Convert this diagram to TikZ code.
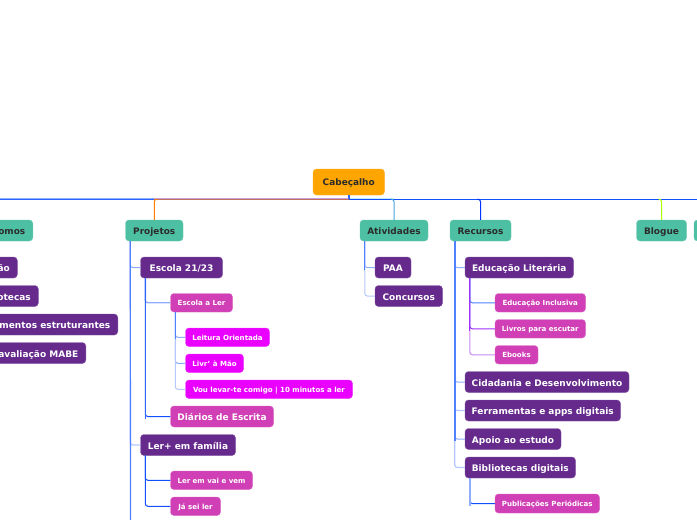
\documentclass[tikz,border=0pt]{standalone}
\usepackage{fontspec}
\setmainfont{DejaVu Sans}
\definecolor{teal1}{HTML}{4DBFA3}
\definecolor{purp1}{HTML}{652A8C}
\definecolor{pink1}{HTML}{D03FB5}
\definecolor{mag1}{HTML}{EA00FF}
\definecolor{orng1}{HTML}{FFA500}
\definecolor{ink1}{HTML}{2B2B2B}
\definecolor{trunkb}{HTML}{2A66FF}
\definecolor{midb}{HTML}{4F80FF}
\definecolor{lightb}{HTML}{8FADFF}
\definecolor{paleb}{HTML}{B4C8FF}
\definecolor{deepb}{HTML}{1050FF}
\definecolor{viol1}{HTML}{A030FF}
\definecolor{viol2}{HTML}{C888F8}
\definecolor{brown1}{HTML}{C0705A}
\definecolor{palep}{HTML}{C8A0E0}
\tikzset{
 box/.style={rounded corners=3.5pt,inner sep=0pt,anchor=center,text height=8pt,text depth=0pt,font=\bfseries\fontsize{9}{11}\selectfont},
 mainbox/.style={box,fill=teal1,draw=teal1!85!white,line width=.4pt,text=ink1,text height=7.5pt,font=\bfseries\fontsize{8.95}{10}\selectfont},
 root/.style={mainbox,fill=orng1,draw=orng1!85!white},
 subbox/.style={box,fill=purp1,draw=purp1!80!white,line width=.4pt,text=white},
 pinkbox/.style={box,fill=pink1,draw=pink1!80!white,line width=.4pt,text=white,text height=6pt,font=\bfseries\fontsize{7.05}{8}\selectfont},
 pinkbig/.style={box,fill=pink1,draw=pink1!80!white,line width=.4pt,text=white},
 magbox/.style={pinkbox,fill=mag1,draw=mag1!80!white},
 cn/.style={rounded corners=2.5pt,line width=1pt},
 bar/.style={line width=1pt},
}
\newcommand{\bx}[7]{\node[#1,minimum width=#4-#3,minimum height=#6-#5] (#2) at ({(#3+#4)/2},{(#5+#6)/2}) {#7};}
\begin{document}
\begin{tikzpicture}[x=1pt,y=-1pt]
\useasboundingbox (0,0) rectangle (697,520);
\clip (0,0) rectangle (697,520);
\fill[white] (0,0) rectangle (697,520);
\coordinate (barL) at (0,199.2);
\coordinate (barR) at (697,199.2);
\coordinate (bottomP) at (130.5,520);
% nodes
\bx{root}{cab}{313}{384.5}{169}{195}{Cabeçalho}
\node[mainbox,anchor=east,minimum height=21pt,inner xsep=7.5pt] (auto) at (33,230.5) {\hspace*{60pt}omos};
\bx{mainbox}{proj}{125.5}{183}{220}{241}{Projetos}
\bx{mainbox}{ativ}{360}{428}{220}{241}{Atividades}
\bx{mainbox}{recu}{450}{511}{220}{241}{Recursos}
\bx{mainbox}{blog}{636.5}{686.5}{220}{241}{Blogue}
\bx{mainbox}{extra}{694}{730}{220}{241}{}
\node[subbox,anchor=east,minimum height=21pt,inner xsep=7.5pt] (l1) at (17.5,267.5) {\hspace*{60pt}ão};
\node[subbox,anchor=east,minimum height=21pt,inner xsep=7.5pt] (l2) at (38.5,296) {\hspace*{60pt}otecas};
\node[subbox,anchor=east,minimum height=21pt,inner xsep=7.5pt] (l3) at (118,324.5) {\hspace*{60pt}mentos estruturantes};
\node[subbox,anchor=east,minimum height=21pt,inner xsep=7.5pt] (l4) at (86,353) {\hspace*{60pt}avaliação MABE};
\bx{subbox}{esc}{140.5}{222.5}{257}{278}{Escola 21/23}
\bx{pinkbox}{escl}{170.5}{232.5}{293.5}{312}{Escola a Ler}
\bx{magbox}{leit}{185.5}{269.5}{328}{346.5}{Leitura Orientada}
\bx{magbox}{livr}{185.5}{243.5}{354}{372.5}{Livr' à Mão}
\bx{magbox}{vou}{185.5}{352.5}{380}{398.5}{Vou levar-te comigo | 10 minutos a ler}
\bx{pinkbig}{diar}{170.5}{273.5}{406}{427}{Diários de Escrita}
\bx{subbox}{lerf}{140.5}{235.5}{434.5}{455.5}{Ler+ em família}
\bx{pinkbox}{lerv}{170.5}{252.5}{471}{489.5}{Ler em vai e vem}
\bx{pinkbox}{jasei}{170.5}{220.5}{497}{515.5}{Já sei ler}
\bx{subbox}{paa}{375}{411}{257}{278}{PAA}
\bx{subbox}{conc}{375}{442.5}{285.5}{306.5}{Concursos}
\bx{subbox}{edul}{465}{573.5}{257}{278}{Educação Literária}
\bx{pinkbox}{edui}{495}{585.5}{293.5}{312}{Educação Inclusiva}
\bx{pinkbox}{livp}{495}{585.5}{319.5}{338}{Livros para escutar}
\bx{pinkbox}{eboo}{495}{538}{345.5}{364}{Ebooks}
\bx{subbox}{cida}{465}{629}{371.5}{392.5}{Cidadania e Desenvolvimento}
\bx{subbox}{ferr}{465}{620.5}{400}{421}{Ferramentas e apps digitais}
\bx{subbox}{apoi}{465}{561}{428.5}{449.5}{Apoio ao estudo}
\bx{subbox}{bibl}{465}{575.5}{457}{478}{Bibliotecas digitais}
\bx{pinkbox}{publ}{495}{599.5}{494}{513}{Publicações Periódicas}
% top bar
\draw[bar,color=lightb] (0,198.2) -- (proj.north |- 0,198.2);
\draw[bar,color=palep] (proj.north |- 0,198.2) -- (cab.south |- 0,198.2);
\draw[bar,color=cyan!25!white] (cab.south |- 0,198.2) -- (ativ.north |- 0,198.2);
\draw[bar,color=trunkb] (barL) -- (proj.north |- barL);
\draw[bar,color=brown1] (proj.north |- barL) -- (cab.south |- barL);
\draw[bar,color=deepb] (cab.south |- barL) -- (barR);
\draw[line width=2pt,color=trunkb] (cab.south) -- (cab.south |- barL);
\draw[cn,color=orange] ([xshift=3pt]proj.north |- barL) -| (proj.north);
\draw[cn,color=cyan!75!blue!75!white] ([xshift=-3pt]ativ.north |- barL) -| (ativ.north);
\draw[cn,color=blue!80!cyan] ([xshift=-3pt]recu.north |- barL) -| (recu.north);
\draw[cn,color=lime!80!yellow!85!green] ([xshift=-3pt]blog.north |- barL) -| (blog.north);
% Projetos
\draw[cn,color=lightb] ([xshift=5pt]proj.south west) |- (esc.west);
\draw[cn,color=paleb,line width=1.2pt] ([xshift=5pt]proj.south west) |- (lerf.west);
\draw[line width=1.2pt,color=midb] ([xshift=5pt]proj.south west) -- (bottomP);
% Escola 21/23
\draw[cn,color=lightb,line width=1.4pt] ([xshift=5pt]esc.south west) |- (escl.west);
\draw[cn,color=deepb] ([xshift=5pt]esc.south west) |- (diar.west);
\draw[line width=1pt,color=trunkb] ([xshift=5pt]esc.south west) -- ([xshift=5pt,yshift=-2pt]esc.south west |- diar.west);
% Escola a Ler
\draw[cn,color=lightb] ([xshift=5pt]escl.south west) |- (leit.west);
\draw[cn,color=lightb] ([xshift=5pt]escl.south west) |- (livr.west);
\draw[cn,color=paleb] ([xshift=5pt]escl.south west) |- (vou.west);
\draw[line width=1pt,color=midb] ([xshift=5pt]escl.south west) -- ([xshift=5pt,yshift=-2pt]escl.south west |- leit.west);
% Ler+
\draw[cn,color=deepb] ([xshift=5pt]lerf.south west) |- (lerv.west);
\draw[cn,color=deepb] ([xshift=5pt]lerf.south west) |- (jasei.west);
% Atividades
\draw[cn,color=lightb] ([xshift=5pt]ativ.south west) |- (paa.west);
\draw[cn,color=paleb] ([xshift=5pt]ativ.south west) |- (conc.west);
\draw[line width=1pt,color=midb] ([xshift=5pt]ativ.south west) -- ([xshift=5pt,yshift=-2pt]ativ.south west |- paa.west);
% Recursos
\draw[cn,color=lightb] ([xshift=5pt]recu.south west) |- (edul.west);
\draw[cn,color=lightb] ([xshift=5pt]recu.south west) |- (cida.west);
\draw[cn,color=paleb,line width=1.2pt] ([xshift=5pt]recu.south west) |- (ferr.west);
\draw[cn,color=lightb] ([xshift=5pt]recu.south west) |- (apoi.west);
\draw[cn,color=paleb,line width=1.2pt] ([xshift=5pt]recu.south west) |- (bibl.west);
\draw[line width=1.5pt,color=midb] ([xshift=5pt]recu.south west) -- ([xshift=5pt,yshift=-2pt]recu.south west |- apoi.west);
% Educacao literaria
\draw[cn,color=viol2] ([xshift=5pt]edul.south west) |- (eboo.west);
\draw[cn,color=viol1] ([xshift=5pt]edul.south west) |- (livp.west);
\draw[cn,color=midb] ([xshift=5pt]edul.south west) |- (edui.west);
\draw[line width=1pt,color=viol1] ([xshift=5pt]edul.south west) -- ([xshift=5pt,yshift=-2pt]edul.south west |- livp.west);
% Bibliotecas
\draw[cn,color=deepb] ([xshift=5pt]bibl.south west) |- (publ.west);
\draw[line width=1.4pt,color=lightb] ([xshift=5pt]bibl.south west) -- ([xshift=5pt,yshift=-2pt]bibl.south west |- publ.west);
\end{tikzpicture}
\end{document}
